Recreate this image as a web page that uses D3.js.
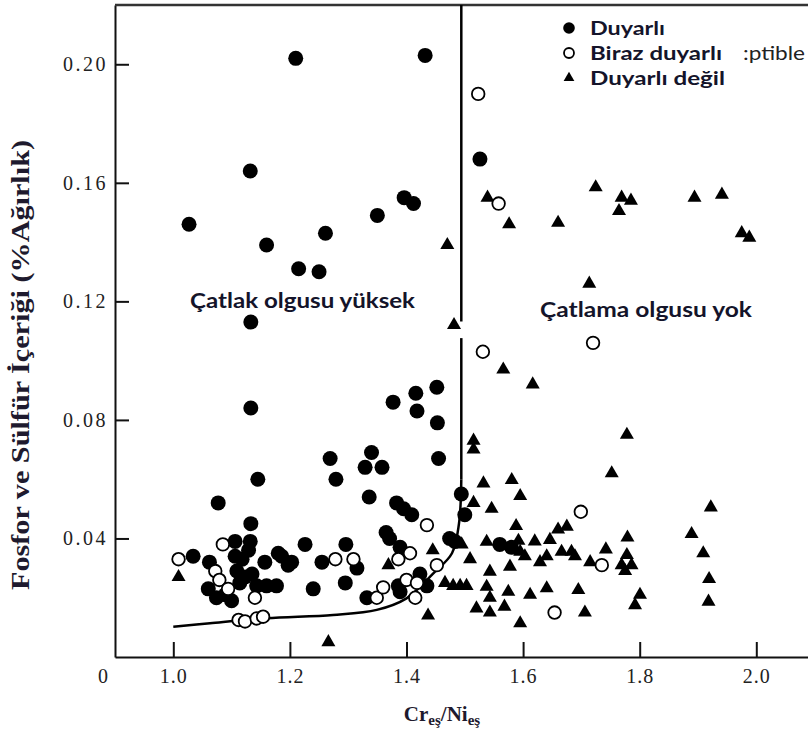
<!DOCTYPE html>
<html>
<head>
<meta charset="utf-8">
<script src="https://cdn.jsdelivr.net/npm/d3@7"></script>
<style>
  html, body { margin: 0; padding: 0; background: #fff; }
  svg { display: block; }
  .tick text { font-family: "Liberation Serif", serif; font-size: 20px; fill: #222; }
  .tick line, .domain { stroke: #111; stroke-width: 2px; }
  .note { font-family: Lato, "Open Sans", sans-serif; font-weight: 700; fill: #14142a; }
</style>
</head>
<body>
<div id="chart"></div>
<script>
// Cr_eş/Ni_eş vs P+S content
const duyarli = [
  [1.210,0.202],[1.432,0.203],[1.132,0.164],[1.027,0.146],[1.160,0.139],[1.215,0.131],
  [1.250,0.130],[1.261,0.143],[1.350,0.149],[1.396,0.155],[1.412,0.153],[1.133,0.113],
  [1.526,0.168],
  [1.133,0.084],[1.145,0.060],[1.077,0.052],[1.133,0.045],
  [1.377,0.086],[1.416,0.089],[1.452,0.091],[1.418,0.083],[1.453,0.079],[1.455,0.067],
  [1.269,0.067],[1.279,0.060],[1.340,0.069],[1.329,0.064],[1.358,0.064],[1.336,0.054],
  [1.383,0.052],[1.395,0.050],[1.409,0.048],[1.494,0.055],[1.500,0.048],
  [1.365,0.042],[1.371,0.040],[1.389,0.037],[1.474,0.040],[1.483,0.039],
  [1.034,0.034],[1.062,0.032],[1.106,0.039],[1.132,0.039],[1.106,0.034],[1.129,0.036],
  [1.109,0.029],[1.123,0.027],[1.060,0.023],[1.074,0.020],[1.089,0.021],[1.100,0.019],
  [1.143,0.024],[1.160,0.024],[1.177,0.024],[1.157,0.032],[1.180,0.035],[1.197,0.031],
  [1.186,0.034],[1.203,0.032],[1.114,0.025],[1.118,0.033],[1.135,0.028],
  [1.226,0.038],[1.296,0.038],[1.255,0.032],[1.315,0.030],[1.240,0.023],[1.295,0.025],
  [1.332,0.020],[1.386,0.024],[1.389,0.022],[1.423,0.028],[1.435,0.024],
  [1.560,0.038],[1.580,0.037]
];
const birazDuyarli = [
  [1.523,0.190],[1.558,0.153],[1.531,0.103],[1.720,0.106],[1.699,0.049],[1.654,0.015],
  [1.735,0.031],
  [1.009,0.033],[1.085,0.038],[1.072,0.029],[1.079,0.026],[1.094,0.023],[1.140,0.020],
  [1.112,0.0125],[1.123,0.012],[1.143,0.013],[1.154,0.0136],
  [1.278,0.033],[1.309,0.033],[1.349,0.020],[1.360,0.0235],[1.400,0.026],[1.418,0.025],
  [1.415,0.020],[1.452,0.031],[1.435,0.0445],[1.386,0.033],[1.406,0.035]
];
const duyarliDegil = [
  [1.539,0.155],[1.576,0.146],[1.660,0.1465],[1.7245,0.1585],[1.769,0.155],[1.785,0.154],
  [1.7645,0.1505],[1.894,0.155],[1.941,0.156],[1.975,0.143],[1.988,0.1415],[1.7135,0.126],
  [1.470,0.139],[1.4815,0.112],
  [1.566,0.097],[1.6165,0.092],[1.778,0.075],[1.752,0.062],[1.922,0.0505],[1.889,0.0415],
  [1.909,0.035],[1.919,0.0263],[1.918,0.0187],
  [1.515,0.073],[1.515,0.070],[1.515,0.052],[1.532,0.0586],[1.5805,0.0597],[1.595,0.0543],
  [1.546,0.050],[1.588,0.0442],
  [1.4946,0.038],[1.5375,0.0389],[1.592,0.0392],[1.620,0.039],[1.646,0.0395],[1.660,0.043],
  [1.675,0.044],[1.595,0.0355],[1.603,0.034],[1.629,0.032],[1.6405,0.034],[1.666,0.0355],
  [1.683,0.0355],[1.689,0.034],[1.715,0.032],[1.5775,0.0305],[1.543,0.0288],[1.509,0.033],
  [1.466,0.025],[1.480,0.024],[1.492,0.024],[1.503,0.024],[1.5375,0.0237],[1.5746,0.022],
  [1.612,0.021],[1.6405,0.0232],[1.6947,0.0226],[1.543,0.020],[1.520,0.0164],[1.543,0.015],
  [1.568,0.017],[1.595,0.0114],[1.706,0.015],
  [1.742,0.0363],[1.779,0.0403],[1.778,0.0344],[1.769,0.031],[1.786,0.031],[1.775,0.029],
  [1.8005,0.021],[1.792,0.0175],
  [1.009,0.027],[1.266,0.005],[1.369,0.031],[1.445,0.036],[1.437,0.014]
];

// boundary: vertical divider (with a small gap) and the lower curve
const dividerX = 1.494;
const dividerUpper = [[dividerX,0.22],[dividerX,0.1132]];
const dividerLower = [[dividerX,0.1076],[dividerX,0.060]];
const lowerCurve = [
  [dividerX,0.060],[1.490,0.045],[1.478,0.035],[1.446,0.0282],[1.40,0.0198],
  [1.349,0.0159],[1.274,0.0142],[1.16,0.0131],[1.063,0.0114],[1.0,0.0102]
];

const xTicks = [1.0,1.2,1.4,1.6,1.8,2.0];
const yTicks = [0.04,0.08,0.12,0.16,0.20];
const legendItems = ["Duyarlı","Biraz duyarlı","Duyarlı değil"];

const width = 808, height = 733;

const svg = d3.select("#chart").append("svg")
    .attr("width", width)
    .attr("height", height);

const x = d3.scaleLinear().domain([0.9, 2.1]).range([115, 814.6]);
const y = d3.scaleLinear().domain([0, 0.22]).range([657, 5]);

// axes, ticks pointing inward
svg.append("g")
    .attr("transform", `translate(0,${y(0)})`)
    .call(d3.axisBottom(x).tickValues(xTicks).tickFormat(d3.format(".1f"))
        .tickSizeInner(-15).tickSizeOuter(0).tickPadding(12))
    .selectAll(".tick text").attr("letter-spacing", "1px");

svg.append("g")
    .attr("transform", `translate(${x(0.9)},0)`)
    .call(d3.axisLeft(y).tickValues(yTicks).tickFormat(d3.format(".2f"))
        .tickSizeInner(-14).tickSizeOuter(0).tickPadding(7))
    .selectAll(".tick text").attr("letter-spacing", "2.5px");

// top border
svg.append("line")
    .attr("x1", x(0.9)).attr("x2", width)
    .attr("y1", y(0.22)).attr("y2", y(0.22))
    .attr("stroke", "#333").attr("stroke-width", 2.5);

// origin label
svg.append("text")
    .attr("x", x(0.9) - 12).attr("y", y(0) + 26)
    .attr("text-anchor", "middle")
    .style("font-family", "Liberation Serif, serif").style("font-size", "20px")
    .attr("fill", "#222")
    .text("0");

const line = d3.line().x(d => x(d[0])).y(d => y(d[1]));
[dividerUpper, dividerLower].forEach(seg => {
    svg.append("path").attr("d", line(seg))
        .attr("fill", "none").attr("stroke", "#000").attr("stroke-width", 2.5);
});
svg.append("path")
    .attr("d", line.curve(d3.curveCatmullRom)(lowerCurve))
    .attr("fill", "none").attr("stroke", "#000").attr("stroke-width", 2.5);

// markers
const tri = d3.symbol().type(d3.symbolTriangle).size(85);

svg.append("g").selectAll("path")
    .data(duyarliDegil).join("path")
    .attr("transform", d => `translate(${x(d[0])},${y(d[1])})`)
    .attr("d", tri)
    .attr("fill", "#000");

svg.append("g").selectAll("circle")
    .data(duyarli).join("circle")
    .attr("cx", d => x(d[0])).attr("cy", d => y(d[1]))
    .attr("r", 7.5)
    .attr("fill", "#000");

svg.append("g").selectAll("circle")
    .data(birazDuyarli).join("circle")
    .attr("cx", d => x(d[0])).attr("cy", d => y(d[1]))
    .attr("r", 6.3)
    .attr("fill", "#fff").attr("stroke", "#000").attr("stroke-width", 1.8);

// legend
const legend = svg.append("g").attr("transform", "translate(569,0)");
const rows = [28, 53, 78];
const legendWidths = [75, 132, 135];
legend.append("circle").attr("cx", 0).attr("cy", rows[0]).attr("r", 5.8).attr("fill", "#000");
legend.append("circle").attr("cx", 0).attr("cy", rows[1]).attr("r", 5)
    .attr("fill", "#fff").attr("stroke", "#000").attr("stroke-width", 1.8);
legend.append("path").attr("transform", `translate(0,${rows[2]})`)
    .attr("d", d3.symbol().type(d3.symbolTriangle).size(50)()).attr("fill", "#000");
legend.selectAll("text.lg")
    .data(legendItems).join("text")
    .attr("class", "note lg")
    .attr("x", 21).attr("y", (d, i) => rows[i] + 7)
    .attr("textLength", (d, i) => legendWidths[i])
    .attr("lengthAdjust", "spacingAndGlyphs")
    .style("font-size", "19.5px")
    .text(d => d);
legend.append("text")
    .attr("x", 174).attr("y", rows[1] + 7)
    .attr("textLength", 62).attr("lengthAdjust", "spacingAndGlyphs")
    .style("font-family", "Lato, sans-serif").style("font-size", "19px")
    .attr("fill", "#222")
    .text(":ptible");

// region notes
svg.append("text").attr("class", "note")
    .attr("x", 190).attr("y", 308).style("font-size", "21px")
    .attr("textLength", 225).attr("lengthAdjust", "spacingAndGlyphs")
    .text("Çatlak olgusu yüksek");
svg.append("text").attr("class", "note")
    .attr("x", 540).attr("y", 317).style("font-size", "21px")
    .attr("textLength", 212).attr("lengthAdjust", "spacingAndGlyphs")
    .text("Çatlama olgusu yok");

// axis titles
svg.append("text")
    .attr("transform", "translate(29,365) rotate(-90)")
    .attr("text-anchor", "middle")
    .attr("textLength", 450).attr("lengthAdjust", "spacingAndGlyphs")
    .style("font-family", "Liberation Serif, serif").style("font-size", "25px")
    .style("font-weight", "bold")
    .attr("fill", "#1e1a2e")
    .text("Fosfor ve Sülfür İçeriği (%Ağırlık)");

const xt = svg.append("text")
    .attr("x", 442).attr("y", 721)
    .attr("text-anchor", "middle")
    .style("font-family", "Liberation Serif, serif").style("font-size", "21px")
    .style("font-weight", "bold")
    .attr("fill", "#1e1a2e");
xt.append("tspan").text("Cr");
xt.append("tspan").attr("dy", 4).style("font-size", "15px").text("eş");
xt.append("tspan").attr("dy", -4).text("/Ni");
xt.append("tspan").attr("dy", 4).style("font-size", "15px").text("eş");
</script>
</body>
</html>
